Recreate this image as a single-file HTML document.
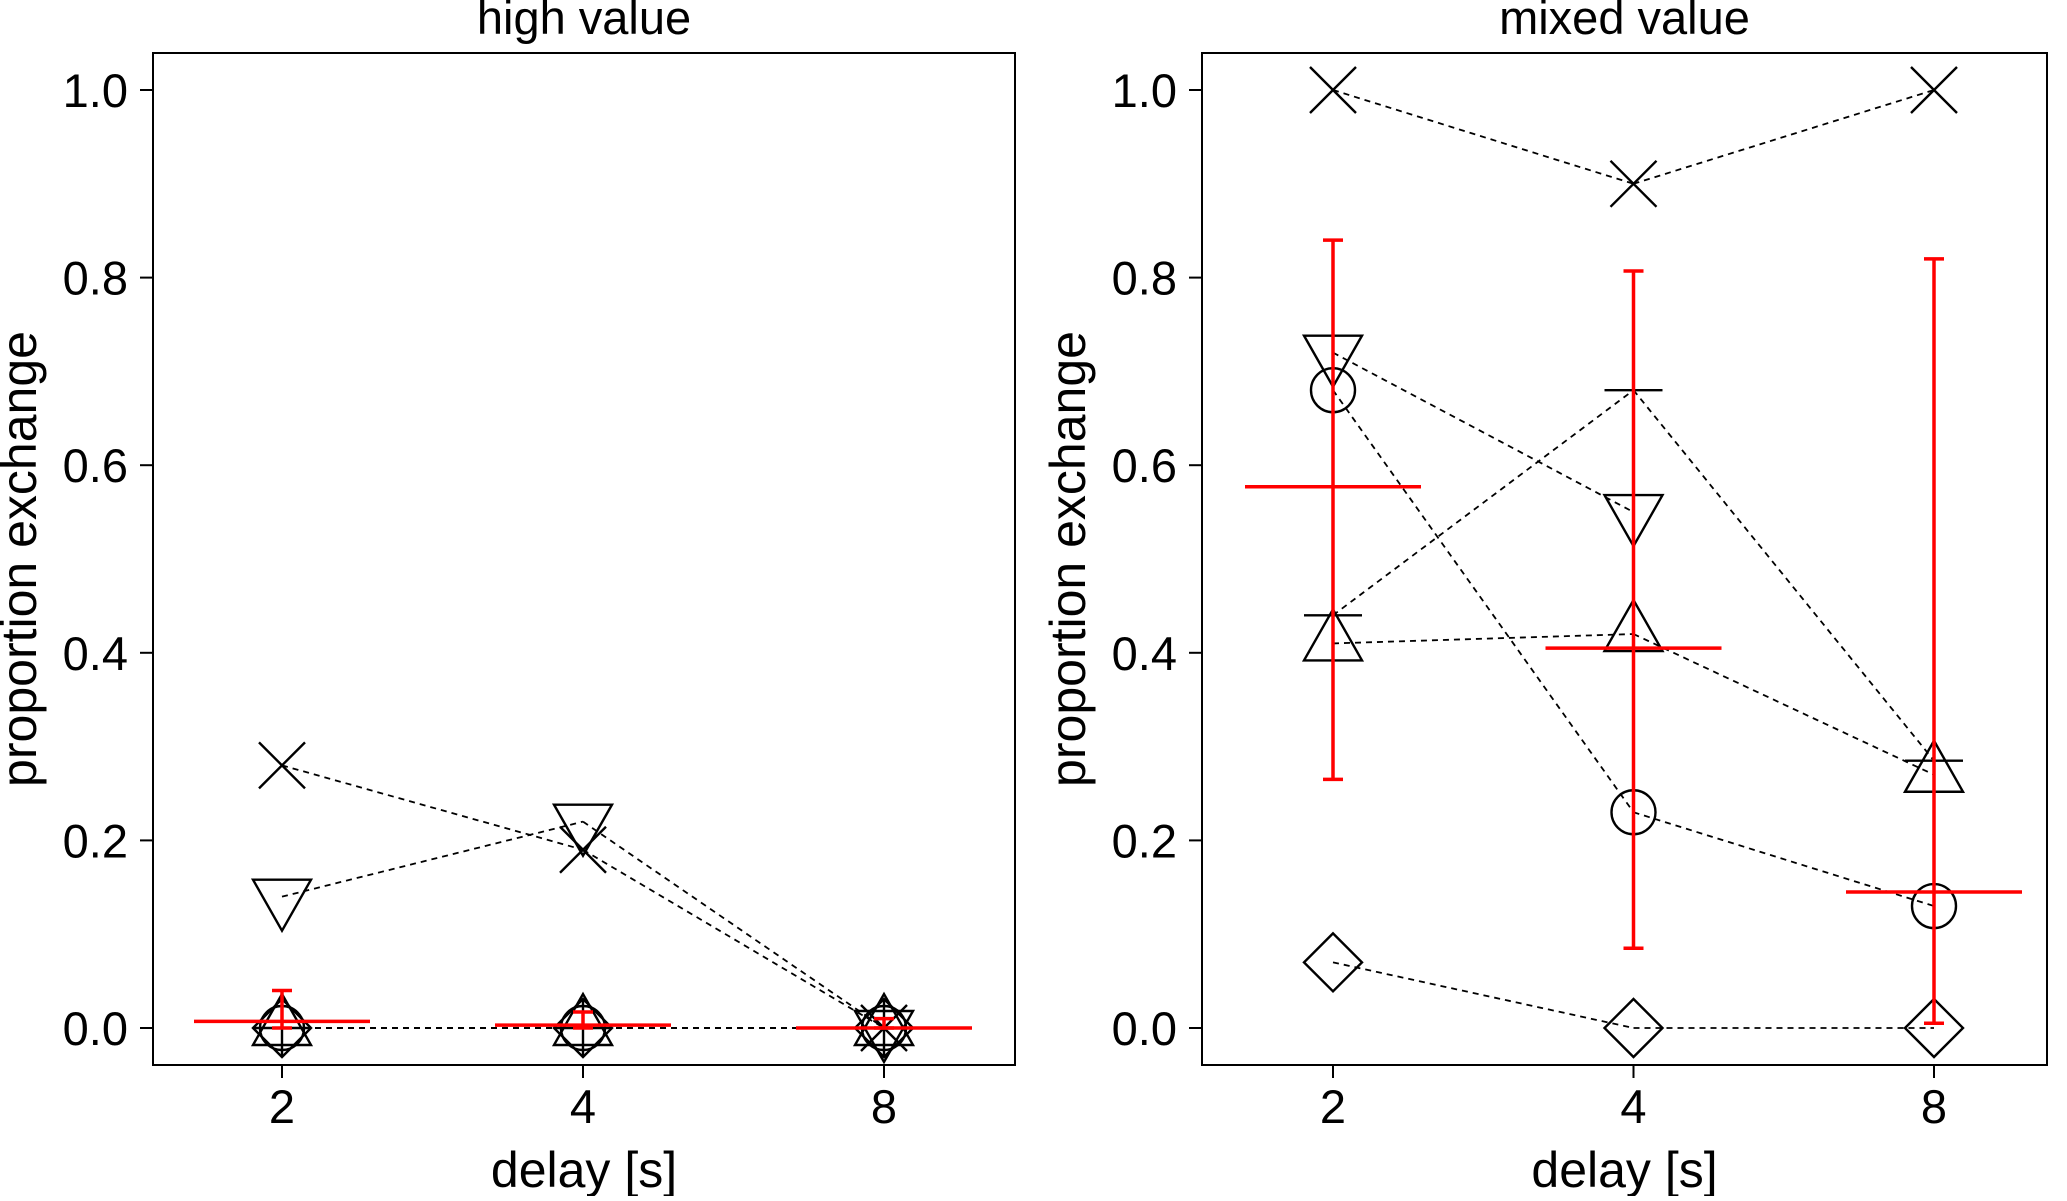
<!DOCTYPE html>
<html><head><meta charset="utf-8"><style>
body{margin:0;background:#fff}
svg text{font-family:"Liberation Sans",Arial,sans-serif;fill:#000}
</style></head><body>
<svg id="chart" width="2067" height="1196" viewBox="0 0 2067 1196" xmlns="http://www.w3.org/2000/svg"></svg>
<script>
const categories=["2","4","8"];
const yTicks=[0,0.2,0.4,0.6,0.8,1.0];
const yTickLabels=["0.0","0.2","0.4","0.6","0.8","1.0"];
// high value panel
const hiCross=[0.28,0.19,0];
const hiDown=[0.14,0.22,0];
const hiUp=[0,0,0];
const hiCircle=[0,0,0];
const hiDiamond=[0,0,0];
const hiPlus=[0,0,0];
const hiMean=[0.007,0.003,0.0];
const hiLo=[0,0,0];
const hiHi=[0.04,0.017,0.01];
// mixed value panel
const mxCross=[1.0,0.9,1.0];
const mxDown=[0.72,0.55,null];
const mxUp=[0.41,0.42,0.27];
const mxCircle=[0.68,0.23,0.13];
const mxDiamond=[0.07,0,0];
const mxPlus=[0.44,0.68,0.285];
const mxMean=[0.577,0.405,0.145];
const mxLo=[0.265,0.085,0.005];
const mxHi=[0.84,0.807,0.82];

const NS="http://www.w3.org/2000/svg";
const svg=document.getElementById('chart');
function el(tag,attrs,parent){const e=document.createElementNS(NS,tag);for(const k in attrs)e.setAttribute(k,attrs[k]);(parent||svg).appendChild(e);return e;}

function panel(p){
  const g=el('g',{});
  
  
  const y=v=>1028-(v)*938;
  const x=i=>p.x0+i*p.dx;
  const box=el('rect',{x:p.left,y:53,width:p.right-p.left,height:1012,fill:'none',stroke:'#000','stroke-width':2},g);
  
  
  const t=el('text',{x:(p.left+p.right)/2,y:34,'text-anchor':'middle','font-size':47},g);
  t.textContent=p.title;
  
  
  yTicks.forEach((v,i)=>{
    el('line',{x1:p.left-13,x2:p.left,y1:y(v),y2:y(v),stroke:'#000','stroke-width':2},g);
    const l=el('text',{x:p.left-25,y:y(v)+17,'text-anchor':'end','font-size':47},g);
    l.textContent=yTickLabels[i];
    
    
  });
  categories.forEach((c,i)=>{
    el('line',{x1:x(i),x2:x(i),y1:1065,y2:1078,stroke:'#000','stroke-width':2},g);
    const l=el('text',{x:x(i),y:1123,'text-anchor':'middle','font-size':47},g);
    l.textContent=c;
    
    
  });
  const xt=el('text',{x:(p.left+p.right)/2,y:1187,'text-anchor':'middle','font-size':50},g);
  xt.textContent='delay [s]';
  
  
  const yt=el('text',{x:0,y:0,'text-anchor':'middle','font-size':50,transform:`translate(${p.left-117},${y(0.5)}) rotate(-90)`},g);
  yt.textContent='proportion exchange';
  
  
  const st={stroke:'#000','stroke-width':2.4,fill:'none'};
  const series=[['cross',p.cross],['down-triangle',p.down],['up-triangle',p.up],['circle',p.circle],['diamond',p.diamond],['plus',p.plus]];
  series.forEach(([kind,vals])=>{
    const sg=el('g',{},g);
    
    
    let pts=[];
    vals.forEach((v,i)=>{if(v!==null)pts.push([x(i),y(v)]);});
    for(let k=0;k<pts.length-1;k++){
      el('line',{x1:pts[k][0],y1:pts[k][1],x2:pts[k+1][0],y2:pts[k+1][1],stroke:'#000','stroke-width':1.8,'stroke-dasharray':'6,5'},sg);
    }
    pts.forEach(([cx,cy])=>{
      let m;
      if(kind==='cross'){m=el('path',Object.assign({d:`M${cx-23},${cy-23}L${cx+23},${cy+23}M${cx-23},${cy+23}L${cx+23},${cy-23}`},st),sg);}
      else if(kind==='down-triangle'){m=el('path',Object.assign({d:`M${cx-29},${cy-17}L${cx+29},${cy-17}L${cx},${cy+34}Z`},st),sg);}
      else if(kind==='up-triangle'){m=el('path',Object.assign({d:`M${cx-29},${cy+17}L${cx+29},${cy+17}L${cx},${cy-34}Z`},st),sg);}
      else if(kind==='circle'){m=el('circle',Object.assign({cx:cx,cy:cy,r:22},st),sg);}
      else if(kind==='diamond'){m=el('path',Object.assign({d:`M${cx},${cy-29}L${cx+29},${cy}L${cx},${cy+29}L${cx-29},${cy}Z`},st),sg);}
      else {m=el('path',Object.assign({d:`M${cx-29},${cy}L${cx+29},${cy}M${cx},${cy-29}L${cx},${cy+29}`},st),sg);}
      
      
    });
  });
  p.mean.forEach((m,i)=>{
    const rg=el('g',{stroke:'#ff0000','stroke-width':3.5},g);
    
    
    el('line',{x1:x(i),x2:x(i),y1:y(p.lo[i]),y2:y(p.hi[i])},rg);
    el('line',{x1:x(i)-10,x2:x(i)+10,y1:y(p.lo[i]),y2:y(p.lo[i])},rg);
    el('line',{x1:x(i)-10,x2:x(i)+10,y1:y(p.hi[i]),y2:y(p.hi[i])},rg);
    el('line',{x1:x(i)-88,x2:x(i)+88,y1:y(m),y2:y(m)},rg);
  });
}
panel({name:'high-value-panel',title:'high value',left:153,right:1015,x0:282,dx:301,
  cross:hiCross,down:hiDown,up:hiUp,circle:hiCircle,diamond:hiDiamond,plus:hiPlus,mean:hiMean,lo:hiLo,hi:hiHi});
panel({name:'mixed-value-panel',title:'mixed value',left:1202,right:2047,x0:1333,dx:300.5,
  cross:mxCross,down:mxDown,up:mxUp,circle:mxCircle,diamond:mxDiamond,plus:mxPlus,mean:mxMean,lo:mxLo,hi:mxHi});
</script>
</body></html>
